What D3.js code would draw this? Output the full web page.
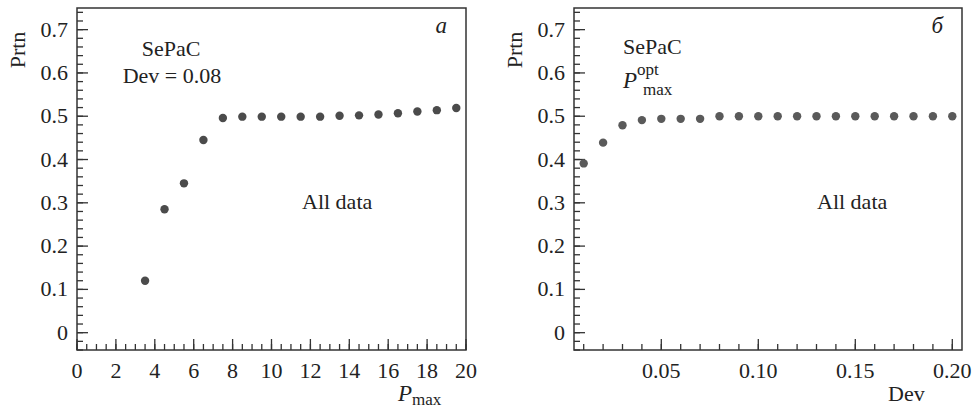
<!DOCTYPE html>
<html>
<head>
<meta charset="utf-8">
<script src="https://cdn.jsdelivr.net/npm/d3@7"></script>
<style>
  body { margin: 0; background: #fff; }
  svg { display: block; }
</style>
</head>
<body>
<div id="chart"></div>
<script>
const WIDTH = 977
const HEIGHT = 411
const FONT = "'Liberation Serif', 'Times New Roman', Times, 'DejaVu Serif', serif"

// panel a: Prtn vs P_max (Dev = 0.08)
var pmax = [3.5, 4.5, 5.5, 6.5, 7.5, 8.5, 9.5, 10.5, 11.5, 12.5, 13.5, 14.5, 15.5, 16.5, 17.5, 18.5, 19.5]
var prtnA = [0.12, 0.285, 0.345, 0.445, 0.496, 0.499, 0.499, 0.499, 0.499, 0.499, 0.501, 0.502, 0.504, 0.507, 0.511, 0.514, 0.519]

// panel b: Prtn vs Dev (P_max optimal)
var dev = [0.01, 0.02, 0.03, 0.04, 0.05, 0.06, 0.07, 0.08, 0.09, 0.10, 0.11, 0.12, 0.13, 0.14, 0.15, 0.16, 0.17, 0.18, 0.19, 0.20]
var prtnB = [0.391, 0.439, 0.479, 0.491, 0.494, 0.494, 0.494, 0.5, 0.5, 0.5, 0.5, 0.5, 0.5, 0.5, 0.5, 0.5, 0.5, 0.5, 0.5, 0.5]

var yTicks = [0, 0.1, 0.2, 0.3, 0.4, 0.5, 0.6, 0.7]
var xTicksA = [0, 2, 4, 6, 8, 10, 12, 14, 16, 18, 20]
var xTicksB = [0.05, 0.10, 0.15, 0.20]

var svg = d3.select("#chart")
	.append("svg")
	.attr("width", WIDTH)
	.attr("height", HEIGHT)
	.attr("font-family", FONT)
	.style("font-family", FONT)

//draws one framed panel with inward ticks
function drawPanel(p){
	var x = d3.scaleLinear().domain(p.xDomain).range([p.left, p.right])
	var y = d3.scaleLinear().domain([-0.04, 0.75]).range([350, 8])
	var g = svg.append("g").attr("fill", "#222")

	// minor + major ticks on y (inward)
	var yMinor = d3.range(-0.04, 0.745, 0.02)
	g.selectAll(".ymin").data(yMinor).enter().append("line")
		.attr("x1", p.left).attr("x2", p.left + 6)
		.attr("y1", d => y(d)).attr("y2", d => y(d))
		.attr("stroke", "#333").attr("stroke-width", 1.3)
	g.selectAll(".ymaj").data(yTicks).enter().append("line")
		.attr("x1", p.left).attr("x2", p.left + 11)
		.attr("y1", d => y(d)).attr("y2", d => y(d))
		.attr("stroke", "#333").attr("stroke-width", 1.3)
	g.selectAll(".ylab").data(yTicks).enter().append("text")
		.attr("x", p.left - 9).attr("y", d => y(d) + 7)
		.attr("text-anchor", "end")
		.attr("font-size", 22)
		.text(d => d === 0 ? "0" : d3.format(".1f")(d))

	// x ticks
	g.selectAll(".xmin").data(p.xMinor).enter().append("line")
		.attr("x1", d => x(d)).attr("x2", d => x(d))
		.attr("y1", 350).attr("y2", 344)
		.attr("stroke", "#333").attr("stroke-width", 1.3)
	g.selectAll(".xmaj").data(p.xTicks).enter().append("line")
		.attr("x1", d => x(d)).attr("x2", d => x(d))
		.attr("y1", 350).attr("y2", 339)
		.attr("stroke", "#333").attr("stroke-width", 1.3)
	g.selectAll(".xlab").data(p.xTicks).enter().append("text")
		.attr("x", d => x(d)).attr("y", 378)
		.attr("text-anchor", "middle")
		.attr("font-size", 22)
		.text(p.xFormat)

	// frame
	g.append("rect")
		.attr("x", p.left).attr("y", 8)
		.attr("width", p.right - p.left).attr("height", 342)
		.attr("fill", "none").attr("stroke", "#333").attr("stroke-width", 1.5)

	// points
	g.selectAll("circle").data(p.xs).enter().append("circle")
		.attr("cx", d => x(d))
		.attr("cy", (d, i) => y(p.ys[i]))
		.attr("r", 4.2)
		.attr("fill", p.color)

	// y label
	g.append("text")
		.attr("transform", "translate(" + (p.left - 52) + ",50)rotate(-90)")
		.attr("text-anchor", "middle")
		.attr("font-size", 22)
		.text("Prtn")

	// panel letter
	g.append("text")
		.attr("x", p.right - 19).attr("y", 33)
		.attr("text-anchor", "end")
		.attr("font-size", 23).attr("font-style", "italic")
		.text(p.letter)

	g.append("text")
		.attr("x", p.allX).attr("y", 209)
		.attr("font-size", 22)
		.text("All data")
	return g
}

var ga = drawPanel({
	left: 77, right: 466, xDomain: [0, 20],
	xTicks: xTicksA, xMinor: d3.range(0, 20.01, 0.5), xFormat: d => d,
	xs: pmax, ys: prtnA, color: "#4b4b4b", letter: "а", allX: 302
})
var gb = drawPanel({
	left: 574, right: 962, xDomain: [0.005, 0.205],
	xTicks: xTicksB, xMinor: d3.range(0.01, 0.2001, 0.01), xFormat: d3.format(".2f"),
	xs: dev, ys: prtnB, color: "#5a5a5a", letter: "б", allX: 817
})

// panel a annotations
ga.append("text").attr("x", 171).attr("y", 56).attr("text-anchor", "middle")
	.attr("font-size", 22).text("SePaC")
ga.append("text").attr("x", 172).attr("y", 83).attr("text-anchor", "middle")
	.attr("font-size", 22).text("Dev = 0.08")
var xla = ga.append("text").attr("x", 398).attr("y", 401).attr("font-size", 23)
xla.append("tspan").attr("font-style", "italic").text("P")
xla.append("tspan").attr("dy", 4).attr("font-size", 17).text("max")

// panel b annotations
gb.append("text").attr("x", 623).attr("y", 54)
	.attr("font-size", 22).text("SePaC")
var pb = gb.append("text").attr("x", 623).attr("y", 88).attr("font-size", 23)
pb.append("tspan").attr("font-style", "italic").text("P")
pb.append("tspan").attr("dy", -13).attr("font-size", 17).text("opt")
pb.append("tspan").attr("x", 643).attr("dy", 20).attr("font-size", 17).text("max")
gb.append("text").attr("x", 888).attr("y", 401)
	.attr("font-size", 22).text("Dev")
</script>
</body>
</html>
